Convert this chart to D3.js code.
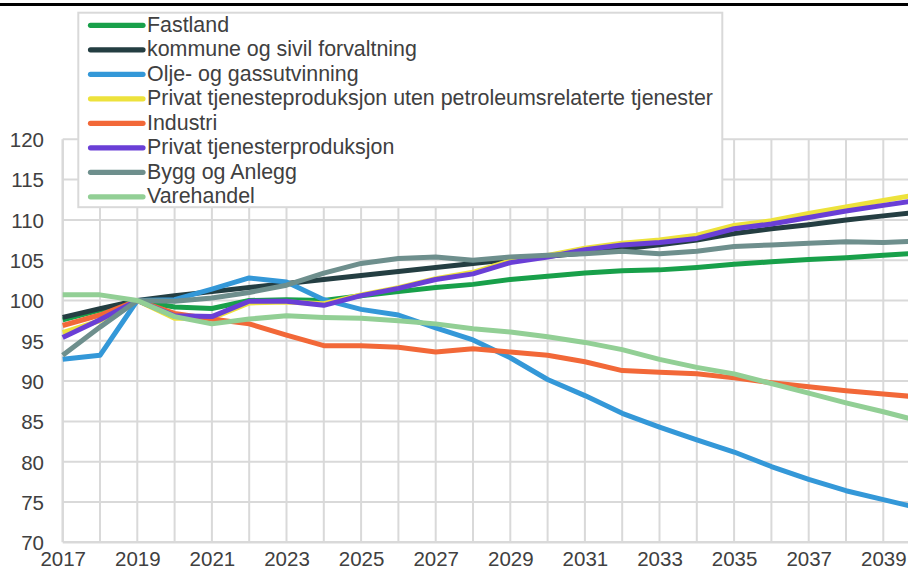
<!DOCTYPE html>
<html>
<head>
<meta charset="utf-8">
<script src="https://cdn.jsdelivr.net/npm/d3@7"></script>
<style>
  html, body { margin: 0; padding: 0; background: #ffffff; }
  svg { display: block; font-family: "Liberation Sans", Arial, sans-serif; }
</style>
</head>
<body>
<svg id="chart" width="908" height="568"></svg>
<script>
// ---- data ----
const years = d3.range(2017, 2041);
const xTickLabels = [2017, 2019, 2021, 2023, 2025, 2027, 2029, 2031, 2033, 2035, 2037, 2039];
const yTickLabels = [70, 75, 80, 85, 90, 95, 100, 105, 110, 115, 120];

const seriesNames = [
  "Fastland",
  "kommune og sivil forvaltning",
  "Olje- og gassutvinning",
  "Privat tjenesteproduksjon uten petroleumsrelaterte tjenester",
  "Industri",
  "Privat tjenesterproduksjon",
  "Bygg og Anlegg",
  "Varehandel"
];
const seriesColors = ["#18a04a", "#243e42", "#3498d8", "#ede23c", "#f26838", "#6a3fd6", "#6e8f8d", "#92cf95"];

const fastland   = [97.6, 98.8, 100, 99.2, 99.0, 100.0, 100.1, 100.0, 100.6, 101.1, 101.6, 102.0, 102.6, 103.0, 103.4, 103.7, 103.8, 104.1, 104.5, 104.8, 105.1, 105.3, 105.6, 105.9];
const kommune    = [97.9, 99.0, 100, 100.6, 101.1, 101.6, 102.1, 102.6, 103.1, 103.6, 104.1, 104.6, 105.1, 105.5, 105.9, 106.4, 106.9, 107.5, 108.3, 108.9, 109.4, 110.0, 110.5, 111.0];
const olje       = [92.7, 93.2, 100, 100.1, 101.4, 102.8, 102.3, 100.1, 98.9, 98.2, 96.6, 95.1, 92.9, 90.2, 88.2, 86.0, 84.3, 82.7, 81.2, 79.4, 77.8, 76.4, 75.3, 74.2];
const privatUten = [96.0, 97.5, 100, 97.8, 97.8, 99.7, 99.8, 99.6, 100.7, 101.6, 102.7, 103.5, 104.9, 105.6, 106.5, 107.1, 107.5, 108.1, 109.3, 109.9, 110.8, 111.6, 112.4, 113.2];
const industri   = [96.9, 98.2, 100, 98.4, 97.7, 97.1, 95.7, 94.4, 94.4, 94.2, 93.6, 94.0, 93.6, 93.2, 92.4, 91.3, 91.1, 90.9, 90.4, 89.8, 89.3, 88.8, 88.4, 88.0];
const privatTj   = [95.4, 97.6, 100, 98.1, 98.0, 99.9, 99.9, 99.4, 100.6, 101.5, 102.6, 103.3, 104.7, 105.4, 106.3, 106.9, 107.2, 107.7, 108.9, 109.5, 110.3, 111.1, 111.8, 112.5];
const bygg       = [93.2, 96.7, 100, 99.9, 100.3, 101.0, 101.9, 103.4, 104.6, 105.2, 105.4, 105.0, 105.4, 105.6, 105.8, 106.1, 105.8, 106.1, 106.7, 106.9, 107.1, 107.3, 107.2, 107.4];
const varehandel = [100.7, 100.7, 100, 98.0, 97.1, 97.7, 98.1, 97.9, 97.8, 97.5, 97.1, 96.5, 96.1, 95.5, 94.8, 93.9, 92.7, 91.7, 90.9, 89.7, 88.5, 87.3, 86.2, 85.0];

const seriesValues = [fastland, kommune, olje, privatUten, industri, privatTj, bygg, varehandel];

// ---- layout ----
const svg = d3.select("#chart");
const W = 908, H = 568;
const x = d3.scaleLinear().domain([2017, 2040]).range([62.7, 920.6]);
const y = d3.scaleLinear().domain([70, 120]).range([542.3, 139.3]);
const gridColor = "#d9d9d9";
const textColor = "#404040";

// top black rule
svg.append("line")
  .attr("x1", 0).attr("x2", W).attr("y1", 4.5).attr("y2", 4.5)
  .attr("stroke", "#000").attr("stroke-width", 3);

// gridlines
const grid = svg.append("g");
grid.selectAll("line.h").data(yTickLabels).join("line")
  .attr("class", "h")
  .attr("x1", x(2017)).attr("x2", W)
  .attr("y1", d => y(d)).attr("y2", d => y(d))
  .attr("stroke", gridColor).attr("stroke-width", d => d === 70 ? 2.5 : 2);
grid.selectAll("line.v").data(years).join("line")
  .attr("class", "v")
  .attr("x1", d => x(d)).attr("x2", d => x(d))
  .attr("y1", y(120)).attr("y2", y(70))
  .attr("stroke", gridColor).attr("stroke-width", d => d === 2017 ? 2.5 : 2);

// axes labels
const yAxis = d3.axisLeft(y).tickValues(yTickLabels).tickSize(0).tickPadding(0).tickFormat(d3.format("d"));
const gy = svg.append("g").attr("transform", "translate(44,0)").call(yAxis);
gy.select(".domain").remove();
gy.selectAll("text").attr("fill", textColor).attr("font-size", "20.5px")
  .attr("font-family", "'Liberation Sans', Arial, sans-serif").attr("dy", "0.36em").attr("x", 0);

const xAxis = d3.axisBottom(x).tickValues(xTickLabels).tickSize(0).tickPadding(0).tickFormat(d3.format("d"));
const gx = svg.append("g").attr("transform", "translate(0,566)").call(xAxis);
gx.select(".domain").remove();
gx.selectAll("text").attr("fill", textColor).attr("font-size", "20.5px")
  .attr("font-family", "'Liberation Sans', Arial, sans-serif").attr("dy", 0).attr("y", 0);

// series lines
const line = d3.line().x((d, i) => x(years[i])).y(d => y(d));
svg.append("g").selectAll("path").data(seriesValues).join("path")
  .attr("d", d => line(d))
  .attr("fill", "none")
  .attr("stroke", (d, i) => seriesColors[i])
  .attr("stroke-width", 5)
  .attr("stroke-linejoin", "round")
  .attr("stroke-linecap", "butt");

// legend
const lg = svg.append("g");
lg.append("rect")
  .attr("x", 78.3).attr("y", 12.7).attr("width", 644).attr("height", 194.5)
  .attr("fill", "#fff").attr("stroke", gridColor).attr("stroke-width", 2);
const rows = lg.selectAll("g.row").data(seriesNames).join("g")
  .attr("class", "row")
  .attr("transform", (d, i) => `translate(0,${25.3 + i * 24.5})`);
rows.append("line")
  .attr("x1", 90.5).attr("x2", 143).attr("y1", 0).attr("y2", 0)
  .attr("stroke", (d, i) => seriesColors[i]).attr("stroke-width", 5.2)
  .attr("stroke-linecap", "round");
rows.append("text")
  .attr("x", 147).attr("y", 6.6)
  .attr("fill", textColor).attr("font-size", "21.4px")
  .text(d => d);
</script>
</body>
</html>
